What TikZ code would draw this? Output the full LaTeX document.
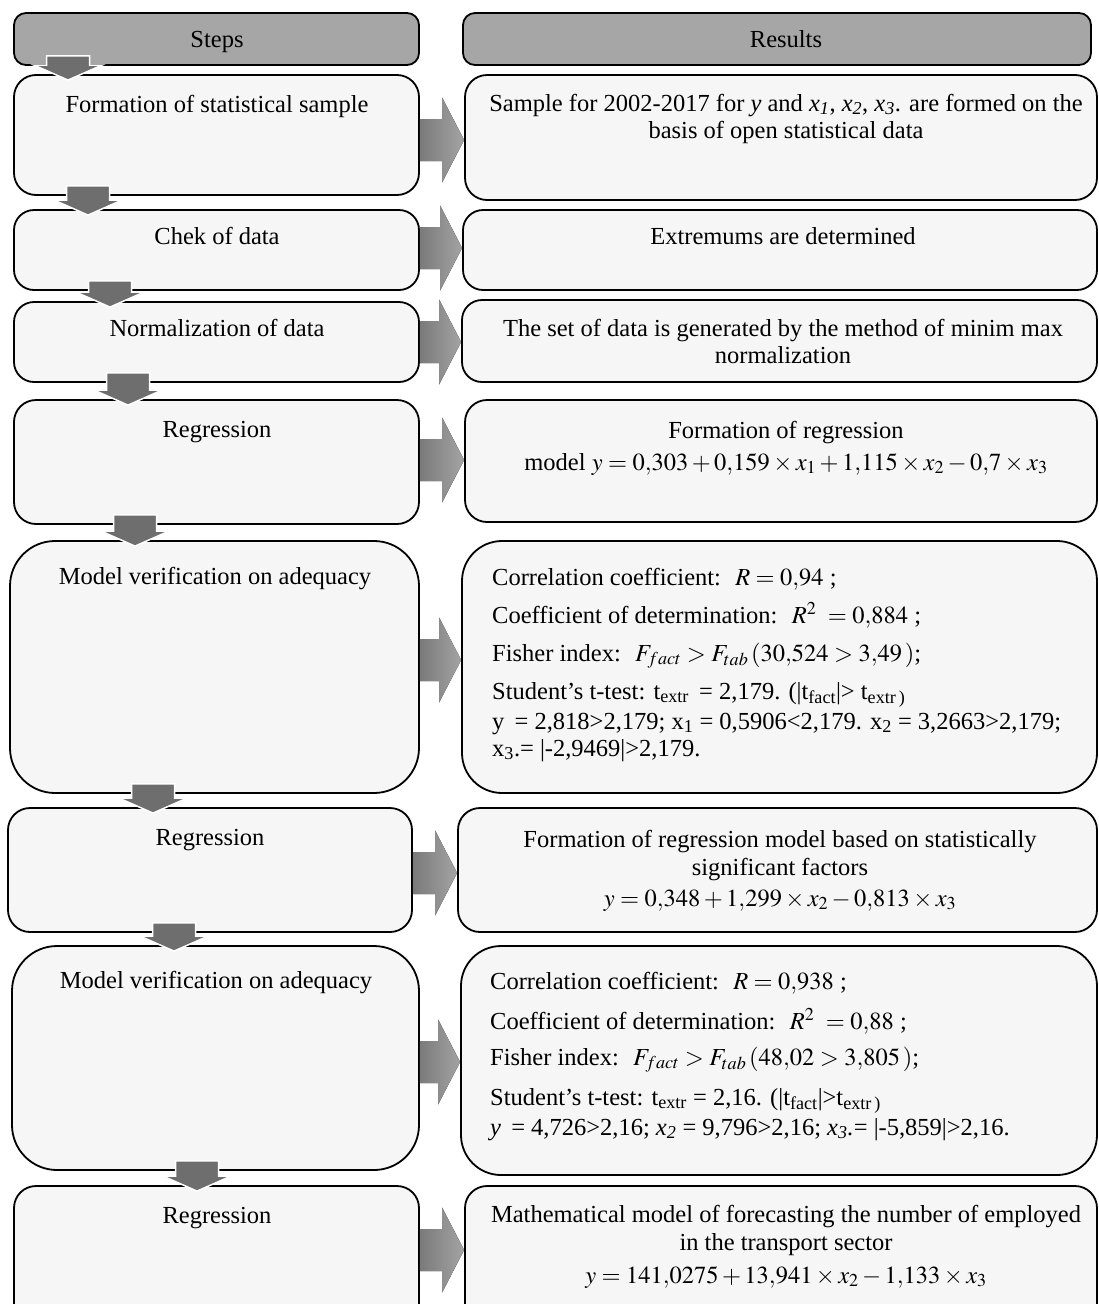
\documentclass[tikz,border=0pt]{standalone}
\usepackage{mathptmx}
\usepackage{fontspec}
\setmainfont{Liberation Serif}
\usetikzlibrary{positioning, calc, fit}

\definecolor{boxfill}{HTML}{F6F6F6}
\definecolor{headfill}{HTML}{A6A6A6}
\definecolor{downfill}{HTML}{6E6E6E}

% 向下的块箭头: #1 上方节点, #2 下方节点, #3 横坐标
\newcommand\blockdown[3]{%
	\filldraw[downarrow] let \p1=(#3,0 |- #1.south), \p2=(#3,0 |- #2.north) in
	(\x1-21.5pt,\y1+10pt) -- (\x1+21.5pt,\y1+10pt) -- (\x1+21.5pt,\y2+9pt)
	-- (\x1+34pt,\y2+9pt) -- (\x1,\y2-6pt) -- (\x1-34pt,\y2+9pt)
	-- (\x1-21.5pt,\y2+9pt) -- cycle;}

% 向右的块箭头: #1 左节点, #2 右节点, #3 纵坐标
\newcommand\blockright[3]{%
	\fill[rightarrow] let \p1=(#1.east |- 0,#3), \p2=(#2.west |- 0,#3) in
	(\x1,\y1+21pt) -- (\x2-22pt,\y1+21pt) -- (\x2-22pt,\y1+42.5pt) -- (\x2,\y1)
	-- (\x2-22pt,\y1-42.5pt) -- (\x2-22pt,\y1-21pt) -- (\x1,\y1-21pt) -- cycle;}

\begin{document}
\begin{tikzpicture}[x=1pt, y=-1pt]
	% 定义样式
	\tikzset{
		box/.style={
			draw=black, line width=1.8pt,
			fill=boxfill, inner sep=0pt
		},
		headbox/.style={box, fill=headfill, rounded corners=12pt},
		txt/.style={
			anchor=base, inner sep=0pt, align=center,
			font=\fontsize{24.5}{27}\selectfont
		},
		ltxt/.style={txt, anchor=base west, align=left},
		downarrow/.style={fill=downfill, draw=white, line width=1.5pt},
		rightarrow/.style={left color=black!52, right color=black!36}
	}
	
	\useasboundingbox (0,0) rectangle (1099,1304);
	\clip (0,0) rectangle (1099,1304);
	
	% 表头
	\node[headbox, fit={(14,13) (419,65)}] (H1) {};
	\node[headbox, fit={(463,13) (1091,65)}] (H2) {};
	\node[txt] (tH1) at (217,47) {Steps};
	\node[txt] (tH2) at (786,47) {Results};
	
	% 绘制左右两列的圆角框
	\foreach \name/\xa/\ya/\xb/\yb/\r in {
		L1/14/75/419/195/22, R1/465/75/1097/200/22,
		L2/14/210/419/290/20, R2/463/210/1097/290/20,
		L3/14/302/419/382/20, R3/462/300/1097/382/20,
		L4/14/400/419/524/22, R4/465/400/1097/522/22,
		L5/10/541/419/793/45, R5/462/541/1097/793/40,
		L6/8/808/412/932/22, R6/458/808/1097/932/22,
		L7/12/946/419/1170/45, R7/461/946/1097/1175/40,
		L8/14/1186/419/1330/22, R8/465/1186/1097/1330/22} {
		\node[box, rounded corners=\r pt, fit={(\xa,\ya) (\xb,\yb)}] (\name) {};
	}
	
	% 左列文字
	\node[txt] (tL1) at (217,112) {Formation of statistical sample};
	\node[txt] (tL2) at (217,244) {Chek of data};
	\node[txt] (tL3) at (217,336) {Normalization of data};
	\node[txt] (tL4) at (217,437) {Regression};
	\node[txt] (tL5) at (215,584) {Model verification on adequacy};
	\node[txt] (tL6) at (210,845) {Regression};
	\node[txt] (tL7) at (216,988) {Model verification on adequacy};
	\node[txt] (tL8) at (217,1223) {Regression};
	
	% 右列文字 (多行节点按最后一行的基线定位)
	\node[txt] (tR1) at (786,138) {Sample for 2002-2017 for \textit{y} and \textit{x\textsubscript{1}}, \textit{x\textsubscript{2}}, \textit{x\textsubscript{3}}. are formed on the\\basis of open statistical data};
	\node[txt] (tR2) at (783,244) {Extremums are determined};
	\node[txt] (tR3) at (783,363) {The set of data is generated by the method of minim max\\normalization};
	\node[txt] (tR4) at (786,470) {Formation of regression\\[5pt]model $y=0{,}303+0{,}159\times x_1+1{,}115\times x_2-0{,}7\times x_3$};
	\node[ltxt] (tR5) at (492,756) {Correlation coefficient: \ $R=0{,}94$ ;\\[11pt]
		Coefficient of determination: \ $R^2\ =0{,}884$ ;\\[11pt]
		Fisher index: \ $F_{fact}>F_{tab}\,(30{,}524>3{,}49\,)$;\\[11pt]
		Student's t-test: t\textsubscript{extr} \,= 2,179. (|t\textsubscript{fact}|> t\textsubscript{extr\,)}\\[3pt]
		y \,= 2,818>2,179; x\textsubscript{1} = 0,5906<2,179. x\textsubscript{2} = 3,2663>2,179;\\
		x\textsubscript{3}.= |-2,9469|>2,179.};
	\node[txt] (tR6) at (780,906) {Formation of regression model based on statistically\\[1pt]significant factors\\[4pt]$y=0{,}348+1{,}299\times x_2-0{,}813\times x_3$};
	\node[ltxt] (tR7) at (490,1135) {Correlation coefficient: \ $R=0{,}938$ ;\\[13pt]
		Coefficient of determination: \ $R^2\ =0{,}88$ ;\\[9pt]
		Fisher index: \ $F_{fact}>F_{tab}\,(48{,}02>3{,}805\,)$;\\[13pt]
		Student's t-test: t\textsubscript{extr} = 2,16. (|t\textsubscript{fact}|>t\textsubscript{extr\,)}\\[3pt]
		\textit{y} \,= 4,726>2,16; \textit{x\textsubscript{2}} = 9,796>2,16; \textit{x\textsubscript{3}.}= |-5,859|>2,16.};
	\node[txt] (tR8) at (786,1283) {Mathematical model of forecasting the number of employed\\[1pt]in the transport sector\\[6pt]$y=141{,}0275+13{,}941\times x_2-1{,}133\times x_3$};
	
	% 向右的箭头
	\blockright{L1}{R1}{140}
	\blockright{L2}{R2}{248}
	\blockright{L3}{R3}{342}
	\blockright{L4}{R4}{460}
	\blockright{L5}{R5}{660}
	\blockright{L6}{R6}{873}
	\blockright{L7}{R7}{1062}
	\blockright{L8}{R8}{1250}
	
	% 向下的箭头
	\blockdown{H1}{L1}{68}
	\blockdown{L1}{L2}{88}
	\blockdown{L2}{L3}{110}
	\blockdown{L3}{L4}{128}
	\blockdown{L4}{L5}{135}
	\blockdown{L5}{L6}{153}
	\blockdown{L6}{L7}{174}
	\blockdown{L7}{L8}{197}
\end{tikzpicture}
\end{document}
